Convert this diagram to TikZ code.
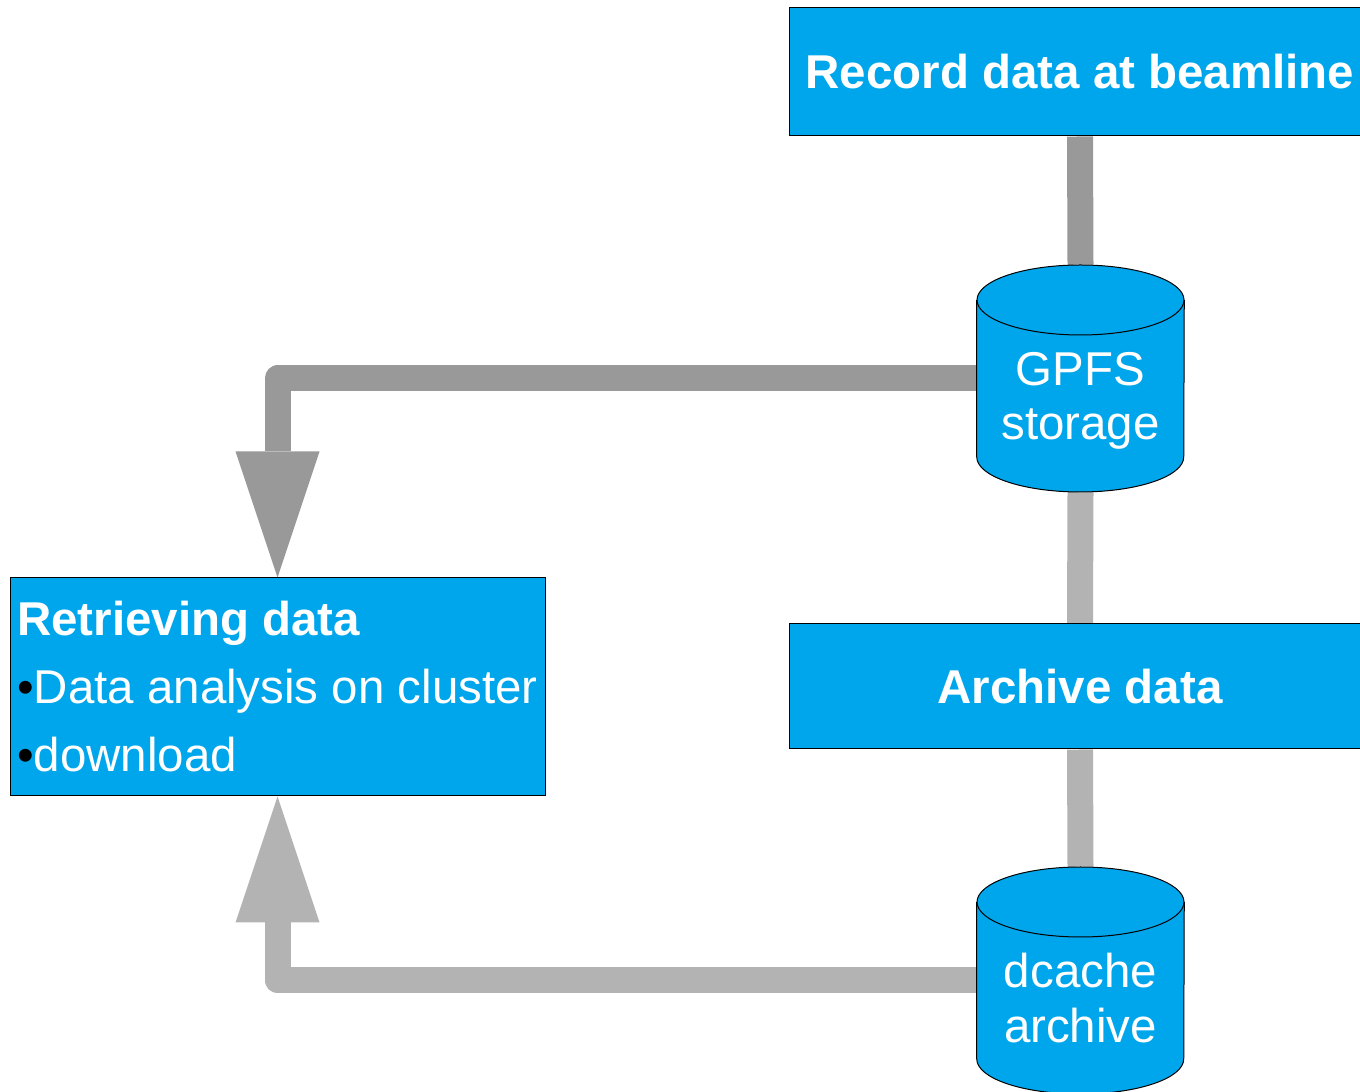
\documentclass[tikz,border=0pt]{standalone}
\usepackage{fontspec}
\setmainfont{Liberation Sans}
\usetikzlibrary{arrows.meta}
\definecolor{boxblue}{HTML}{00A6EB}
\definecolor{darkconn}{HTML}{999999}
\definecolor{lightconn}{HTML}{B3B3B3}
\pgfdeclarelayer{bg}
\pgfsetlayers{bg,main}
\tikzset{
  bluebox/.style={draw=black, line width=0.75pt, fill=boxblue, text=white, inner sep=0pt,
    font=\bfseries\fontsize{35.6pt}{40pt}\selectfont},
  cylanchor/.style={inner sep=0pt, minimum width=155.25pt, minimum height=170.25pt},
  cyltext/.style={text=white, inner sep=0pt, align=center},
  cylfill/.style={fill=boxblue},
  cyloutline/.style={draw=black, line width=0.75pt},
  darkline/.style={draw=darkconn, line width=19.5pt, line join=round},
  lightline/.style={draw=lightconn, line width=19.5pt, line join=round},
  bigtip/.style={-{Triangle[length=94.5pt,width=63pt,line width=0pt]}}
}
\begin{document}
\begin{tikzpicture}[x=0.75pt,y=0.75pt]
\path[use as bounding box] (0,0) rectangle (1360,1092);

% boxes
\node[bluebox, minimum width=436.5pt, minimum height=96pt] (rec) at (1080,1020) {Record data at beamline};
\node[bluebox, minimum width=436.5pt, minimum height=93.75pt] (arch) at (1080,405.5) {Archive data};
\node[bluebox, minimum width=401.25pt, minimum height=163.5pt,
  align=left, font=\fontsize{35.6pt}{51pt}\selectfont] (ret) at (277.5,405)
  {{\bfseries Retrieving data}\\
   \textcolor{black}{•}Data analysis on cluster\\
   \textcolor{black}{•}download};

% cylinder GPFS
\node[cylanchor] (gpfs) at (1080.5,713.5) {};
\fill[cylfill] (gpfs.west |- 0,792) -- (gpfs.west |- 0,635)
  arc[start angle=180, end angle=360, x radius=77.625pt, y radius=26.25pt] -- (gpfs.east |- 0,792) -- cycle;
\draw[cyloutline] (gpfs.west |- 0,792) -- (gpfs.west |- 0,635)
  arc[start angle=180, end angle=360, x radius=77.625pt, y radius=26.25pt] -- (gpfs.east |- 0,792);
\draw[cyloutline, cylfill] (gpfs.center |- 0,792) ellipse[x radius=77.625pt, y radius=26.25pt];
\node[cyltext, font=\fontsize{35.6pt}{40.5pt}\selectfont] (gpfstext) at (1080.5,691.5) {GPFS\\storage};

% cylinder dcache
\node[cylanchor] (dc) at (1080.5,111.5) {};
\fill[cylfill] (dc.west |- 0,190) -- (dc.west |- 0,33)
  arc[start angle=180, end angle=360, x radius=77.625pt, y radius=26.25pt] -- (dc.east |- 0,190) -- cycle;
\draw[cyloutline] (dc.west |- 0,190) -- (dc.west |- 0,33)
  arc[start angle=180, end angle=360, x radius=77.625pt, y radius=26.25pt] -- (dc.east |- 0,190);
\draw[cyloutline, cylfill] (dc.center |- 0,190) ellipse[x radius=77.625pt, y radius=26.25pt];
\node[cyltext, font=\fontsize{35.6pt}{41pt}\selectfont] (dctext) at (1080.5,94) {dcache\\archive};

% connectors
\begin{pgfonlayer}{bg}
\fill[white] (0,0) rectangle (1360,1092);
\draw[darkline] (rec.south) -- (gpfs.north);
\draw[lightline] (gpfs.south) -- (arch.north);
\draw[lightline] (arch.south) -- (dc.north);
\draw[darkline, bigtip] (gpfs.west) -| (ret.north);
\draw[lightline, bigtip] (dc.west) -| (ret.south);
\end{pgfonlayer}
\end{tikzpicture}
\end{document}
